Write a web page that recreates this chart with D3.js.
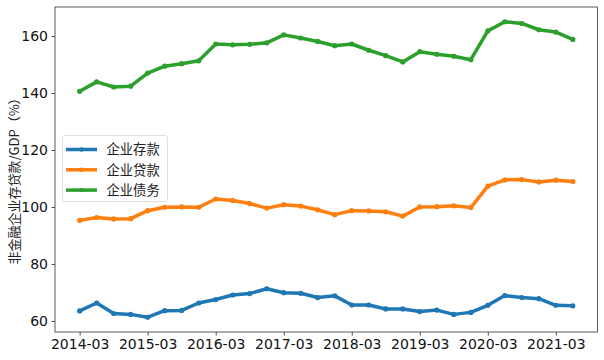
<!DOCTYPE html>
<html><head><meta charset="utf-8">
<script src="https://cdn.jsdelivr.net/npm/d3@7"></script>
<style>body{margin:0;background:#fff}svg{display:block}</style>
</head><body>
<svg id="c" width="604" height="360"></svg>
<script>
const dates = ["2014-03","2014-06","2014-09","2014-12","2015-03","2015-06","2015-09","2015-12",
"2016-03","2016-06","2016-09","2016-12","2017-03","2017-06","2017-09","2017-12",
"2018-03","2018-06","2018-09","2018-12","2019-03","2019-06","2019-09","2019-12",
"2020-03","2020-06","2020-09","2020-12","2021-03","2021-06"];
const deposits = [63.5,66.3,62.6,62.3,61.3,63.6,63.7,66.3,67.5,69.1,69.6,71.3,69.9,69.7,68.2,68.8,
65.6,65.6,64.2,64.2,63.3,63.8,62.3,63.0,65.5,68.9,68.2,67.8,65.5,65.3];
const loans = [95.3,96.3,95.8,95.9,98.7,99.9,100.0,99.9,102.8,102.3,101.2,99.6,100.8,100.3,99.0,97.3,
98.7,98.6,98.3,96.8,100.0,100.1,100.4,99.8,107.3,109.5,109.6,108.8,109.4,108.9];
const debt = [140.6,143.9,142.1,142.4,147.0,149.4,150.3,151.3,157.2,156.9,157.1,157.6,160.4,159.3,158.1,156.6,
157.2,155.0,153.1,150.9,154.5,153.6,152.9,151.7,161.8,165.0,164.4,162.2,161.4,158.8];
const seriesNames = ["企业存款","企业贷款","企业债务"];
const colors = ["#1f77b4","#ff7f0e","#2ca02c"];
const yTicks = [60,80,100,120,140,160];
const xTickLabels = ["2014-03","2015-03","2016-03","2017-03","2018-03","2019-03","2020-03","2021-03"];
const yLabel = "非金融企业存贷款/GDP（%）";

const series = [deposits, loans, debt];
const svg = d3.select("#c");
const L = 55, R = 597.5, T = 7, B = 332;

const n = dates.length;
const xm = (n - 1) * 0.05;
const x = d3.scaleLinear().domain([-xm, n - 1 + xm]).range([L, R]);
const all = series.flat();
const mn = d3.min(all), mx = d3.max(all), ym = (mx - mn) * 0.05;
const y = d3.scaleLinear().domain([mn - ym, mx + ym]).range([B, T]);

const font = "'DejaVu Sans', sans-serif";

// axes
const yAxis = d3.axisLeft(y).tickValues(yTicks).tickSize(3.5).tickPadding(3.5).tickFormat(d3.format("d"));
const gy = svg.append("g").attr("transform", `translate(${L},0)`).call(yAxis);
const xAxis = d3.axisBottom(x).tickValues(xTickLabels.map(l => dates.indexOf(l)))
  .tickSize(3.5).tickPadding(3.5).tickFormat(i => dates[i]);
const gx = svg.append("g").attr("transform", `translate(0,${B})`).call(xAxis);
[gx, gy].forEach(g => {
  g.select(".domain").remove();
  g.selectAll("line").attr("stroke", "#222").attr("stroke-width", 0.8);
  g.selectAll("text").attr("font-family", font).attr("font-size", 14).attr("fill", "#111");
});

// lines
const line = d3.line().x((d, i) => x(i)).y(d => y(d));
series.forEach((s, k) => {
  svg.append("path").datum(s).attr("d", line).attr("fill", "none")
    .attr("stroke", colors[k]).attr("stroke-width", 3.5).attr("stroke-linejoin", "round").attr("stroke-linecap", "butt");
  svg.append("g").selectAll("circle").data(s).join("circle")
    .attr("cx", (d, i) => x(i)).attr("cy", d => y(d)).attr("r", 2.6).attr("fill", colors[k]);
});

// frame
svg.append("rect").attr("x", L).attr("y", T).attr("width", R - L).attr("height", B - T)
  .attr("fill", "none").attr("stroke", "#333").attr("stroke-width", 0.8);

// y label
svg.append("text").attr("transform", `translate(19,178) rotate(-90)`)
  .attr("text-anchor", "middle").attr("font-family", "'Noto Sans CJK SC', sans-serif")
  .attr("font-size", 13).attr("fill", "#222").text(yLabel);

// legend
const lg = svg.append("g");
lg.append("rect").attr("x", 62.5).attr("y", 135.5).attr("width", 105).attr("height", 66)
  .attr("rx", 2.5).attr("fill", "#fff").attr("fill-opacity", 0.8).attr("stroke", "#d8d8d8").attr("stroke-width", 0.8);
seriesNames.forEach((name, k) => {
  const yy = 149.5 + k * 20.3;
  lg.append("line").attr("x1", 66).attr("x2", 97).attr("y1", yy).attr("y2", yy)
    .attr("stroke", colors[k]).attr("stroke-width", 3.5);
  lg.append("circle").attr("cx", 81.5).attr("cy", yy).attr("r", 2.2).attr("fill", colors[k]);
  lg.append("text").attr("x", 106.5).attr("y", yy).attr("dy", "0.36em")
    .attr("font-family", "'Noto Sans CJK SC', sans-serif").attr("font-size", 13.3).attr("fill", "#222").text(name);
});
</script>
</body></html>
